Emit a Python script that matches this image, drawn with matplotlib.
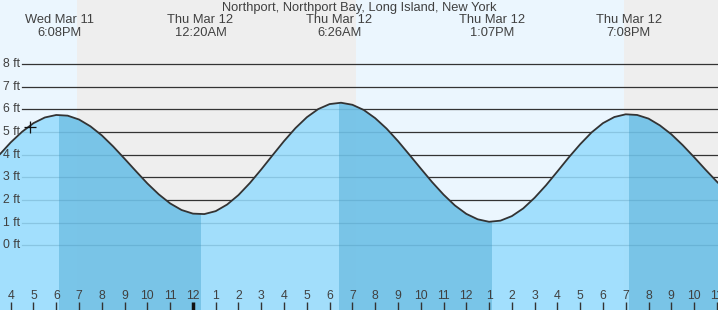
import numpy as np
import matplotlib
matplotlib.use("Agg")
import matplotlib.pyplot as plt
from matplotlib.transforms import blended_transform_factory

plt.rcParams['font.family'] = ['Liberation Sans', 'DejaVu Sans']

# time in hours from Wed Mar 11 00:00
times = np.arange(15.5, 48.0, 0.5)
heights = [3.99, 4.54, 5.01, 5.39, 5.64, 5.75, 5.72, 5.55, 5.25, 4.85,
           4.36, 3.82, 3.27, 2.73, 2.25, 1.85, 1.56, 1.40, 1.38, 1.51,
           1.80, 2.22, 2.75, 3.35, 3.98, 4.60, 5.17, 5.65, 6.01, 6.23,
           6.29, 6.20, 5.97, 5.61, 5.15, 4.60, 4.00, 3.39, 2.79, 2.24,
           1.76, 1.39, 1.15, 1.04, 1.09, 1.29, 1.63, 2.10, 2.65, 3.26,
           3.88, 4.46, 4.98, 5.39, 5.66, 5.78, 5.75, 5.59, 5.29, 4.90,
           4.42, 3.89, 3.34, 2.81, 2.32]

# high / low tide events shown on the chart
event_times = [18.133, 24.333, 30.433, 37.117, 43.133]
event_days = ['Wed Mar 11', 'Thu Mar 12', 'Thu Mar 12', 'Thu Mar 12', 'Thu Mar 12']
event_clock = ['6:08PM', '12:20AM', '6:26AM', '1:07PM', '7:08PM']
# falling tide periods (high -> next low)
falling = [(18.133, 24.333), (30.433, 37.117), (43.133, 49.4)]

# night periods
nights = [(18.91, 31.16), (42.92, 50.0)]

now_time = 16.85
now_height = 5.23

ft_levels = [0, 1, 2, 3, 4, 5, 6, 7, 8]
hour_ticks = list(range(16, 48))
hour_labels = ['4', '5', '6', '7', '8', '9', '10', '11', '12', '1', '2', '3',
               '4', '5', '6', '7', '8', '9', '10', '11', '12', '1', '2', '3',
               '4', '5', '6', '7', '8', '9', '10', '11']

title = 'Northport, Northport Bay, Long Island, New York'
txt = '#404040'

fig = plt.figure(figsize=(7.18, 3.10), dpi=100)
ax = fig.add_axes([0, 0, 1, 1])
ax.set_xlim(15.53, 47.05)
ax.set_ylim(-2.85, 10.82)
ax.axis('off')
ax.add_patch(plt.Rectangle((0, 0), 1, 1, transform=ax.transAxes,
                           color='#ebf6fe', zorder=0))
for a, b in nights:
    ax.axvspan(a, b, color='#eeeeee', lw=0, zorder=0.5)

for lv in ft_levels:
    ax.axhline(lv, xmin=22 / 718, xmax=1, color='#333333', lw=0.9, zorder=1)

poly = ax.fill_between(times, heights, -5, color='#97dcfd', alpha=0.87,
                       lw=0, zorder=2)
clip = poly.get_paths()[0]
for a, b in falling:
    r = ax.axvspan(a, b, color='#2890c0', alpha=0.33, lw=0, zorder=3)
    r.set_clip_path(clip, ax.transData)

ax.plot(times, heights, color='#333333', lw=1.3, zorder=4)
ax.plot([now_time], [now_height], marker='+', color='#111111', ms=8,
        mew=0.9, zorder=5)

yt = blended_transform_factory(ax.transAxes, ax.transData)
for lv in ft_levels:
    ax.text(3 / 718, lv, f'{lv} ft', transform=yt, ha='left', va='center',
            fontsize=8.8, color=txt, zorder=6)

xt = blended_transform_factory(ax.transData, ax.transAxes)
for h, lab in zip(hour_ticks, hour_labels):
    ax.text(h, 1 - 296 / 310, lab, transform=xt, ha='center', va='center',
            fontsize=8.8, color=txt, zorder=6)
    if h % 24 == 0:
        ax.vlines(h, 0, 8 / 310, transform=xt, color='#111111', lw=2.5, zorder=6)
    else:
        ax.vlines(h, 0, 8 / 310, transform=xt, color='#333333', lw=1, zorder=6)

for et, d, c in zip(event_times, event_days, event_clock):
    ax.text(et, 1 - 20 / 310, d, transform=xt, ha='center', va='center',
            fontsize=9.3, color=txt, zorder=6)
    ax.text(et, 1 - 32.5 / 310, c, transform=xt, ha='center', va='center',
            fontsize=9.3, color=txt, zorder=6)

ax.text(0.5, 1 - 7.5 / 310, title, transform=ax.transAxes, ha='center',
        va='center', fontsize=9.3, color=txt, zorder=6)

fig.savefig('out.png', dpi=100)
